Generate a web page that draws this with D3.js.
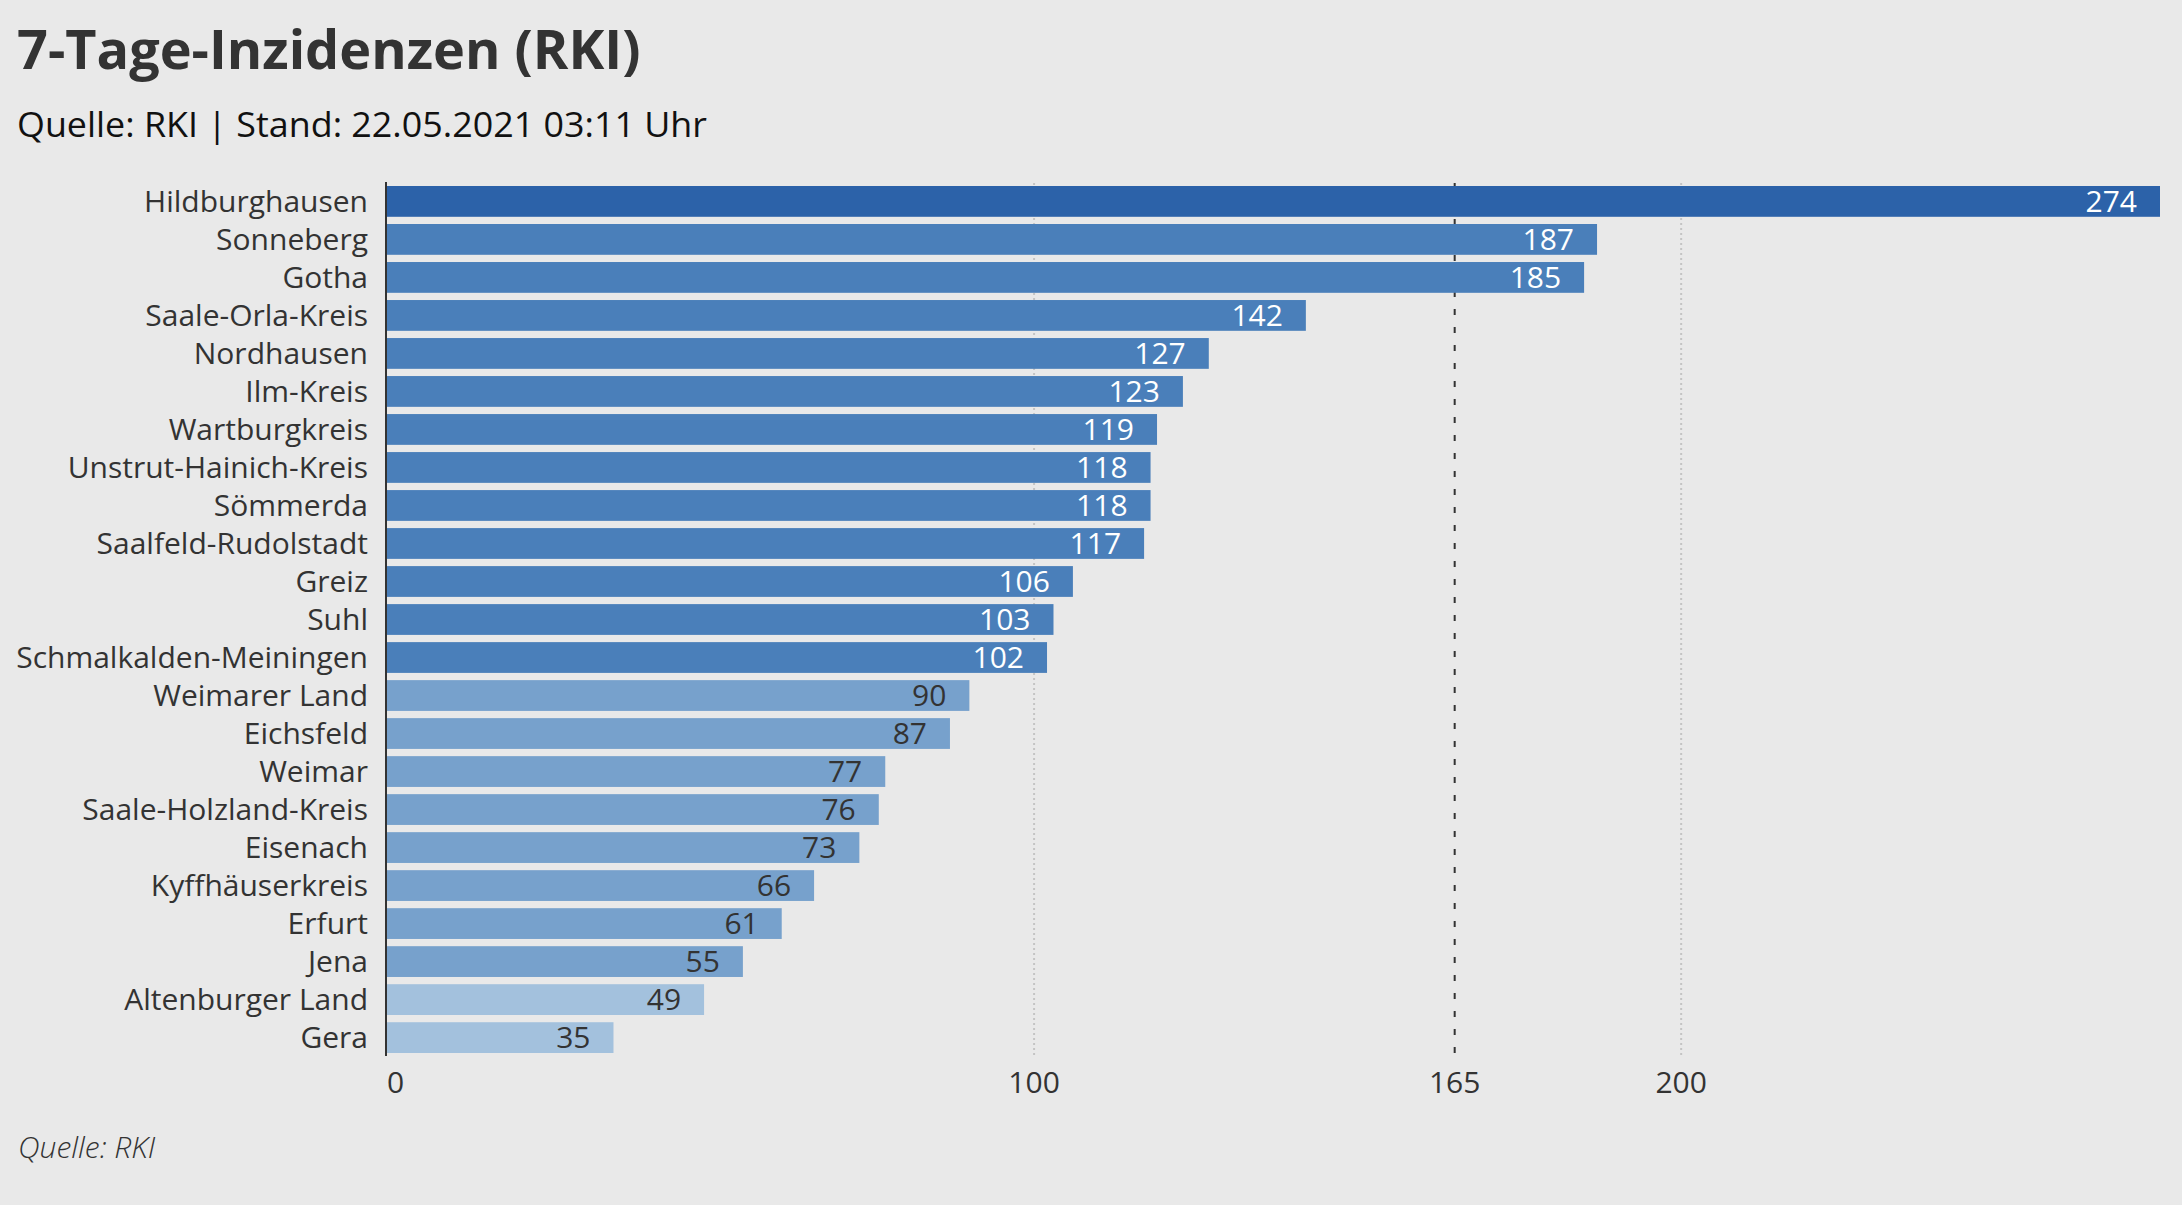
<!DOCTYPE html>
<html>
<head>
<meta charset="utf-8">
<script src="https://cdn.jsdelivr.net/npm/d3@7"></script>
<style>
  html, body { margin: 0; padding: 0; background: #e9e9e9; }
  svg { display: block; }
  text { font-family: "Open Sans", "Noto Sans", sans-serif; }
</style>
</head>
<body>
<svg id="chart" width="2182" height="1205"></svg>
<script>
const categories = ["Hildburghausen","Sonneberg","Gotha","Saale-Orla-Kreis","Nordhausen","Ilm-Kreis","Wartburgkreis","Unstrut-Hainich-Kreis","Sömmerda","Saalfeld-Rudolstadt","Greiz","Suhl","Schmalkalden-Meiningen","Weimarer Land","Eichsfeld","Weimar","Saale-Holzland-Kreis","Eisenach","Kyffhäuserkreis","Erfurt","Jena","Altenburger Land","Gera"];
const values = [274,187,185,142,127,123,119,118,118,117,106,103,102,90,87,77,76,73,66,61,55,49,35];
const tickValues = [0,100,200];
const tickLabels = ["0","100","200"];
const thresholdValue = 165;
const titleText = "7-Tage-Inzidenzen (RKI)";
const subtitleText = "Quelle: RKI | Stand: 22.05.2021 03:11 Uhr";
const footerText = "Quelle: RKI";

const svg = d3.select("#chart");
svg.append("rect").attr("width",2182).attr("height",1205).attr("fill","#e9e9e9");

const x = d3.scaleLinear().domain([0, 274]).range([387, 2160]);
const y = d3.scaleBand().domain(categories).range([186, 1053]).paddingInner(0.19).paddingOuter(0);

function barColor(v){
  if (v >= 200) return "#2c62a9";
  if (v >= 100) return "#4a7fba";
  if (v >= 50) return "#77a1cc";
  return "#a3c1dd";
}

// title
svg.append("text").attr("x",17).attr("y",69).text(titleText)
  .attr("font-size",54).attr("font-weight",700).attr("fill","#333333");
svg.append("text").attr("x",17).attr("y",137).text(subtitleText)
  .attr("font-size",35).attr("fill","#111111")
  .attr("textLength",690).attr("lengthAdjust","spacingAndGlyphs");

// gridlines
const g = svg.append("g");
g.selectAll("line.grid").data(tickValues.filter(d=>d>0)).join("line")
  .attr("class","grid")
  .attr("x1",d=>x(d)).attr("x2",d=>x(d))
  .attr("y1",183).attr("y2",1055)
  .attr("stroke","#c4c4c4").attr("stroke-width",2).attr("stroke-dasharray","2,3");
g.append("line")
  .attr("x1",x(thresholdValue)).attr("x2",x(thresholdValue))
  .attr("y1",183).attr("y2",1055)
  .attr("stroke","#333333").attr("stroke-width",2).attr("stroke-dasharray","6,12");

// bars
const rows = categories.map((c,i)=>({c, v: values[i]}));
g.selectAll("rect.bar").data(rows).join("rect")
  .attr("class","bar")
  .attr("x",x(0)).attr("y",d=>y(d.c))
  .attr("width",d=>x(d.v)-x(0)).attr("height",y.bandwidth())
  .attr("fill",d=>barColor(d.v));

// value labels
g.selectAll("text.val").data(rows).join("text")
  .attr("class","val")
  .attr("x",d=>x(d.v)-23).attr("y",d=>y(d.c)+y.bandwidth()/2)
  .attr("dy","0.35em").attr("text-anchor","end")
  .attr("font-size",30)
  .attr("fill",d=>d.v>=100?"#ffffff":"#333333")
  .text(d=>d.v);

// category labels
g.selectAll("text.cat").data(rows).join("text")
  .attr("class","cat")
  .attr("x",368).attr("y",d=>y(d.c)+y.bandwidth()/2)
  .attr("dy","0.35em").attr("text-anchor","end")
  .attr("font-size",30).attr("fill","#333333")
  .text(d=>d.c);

// axis line
g.append("line").attr("x1",386).attr("x2",386).attr("y1",182).attr("y2",1056)
  .attr("stroke","#333333").attr("stroke-width",2);

// x tick labels
const ticks = tickValues.concat([thresholdValue]);
const tickText = tickLabels.concat([String(thresholdValue)]);
g.selectAll("text.tick").data(ticks).join("text")
  .attr("class","tick")
  .attr("x",d=>x(d)).attr("y",1093)
  .attr("text-anchor",d=>d===0?"start":"middle")
  .attr("font-size",30).attr("fill","#333333")
  .text((d,i)=>tickText[i]);

// footer
svg.append("text").attr("x",18).attr("y",1158).text(footerText)
  .attr("font-size",30).attr("font-style","italic").attr("font-weight",300).attr("fill","#333333");
</script>
</body>
</html>
